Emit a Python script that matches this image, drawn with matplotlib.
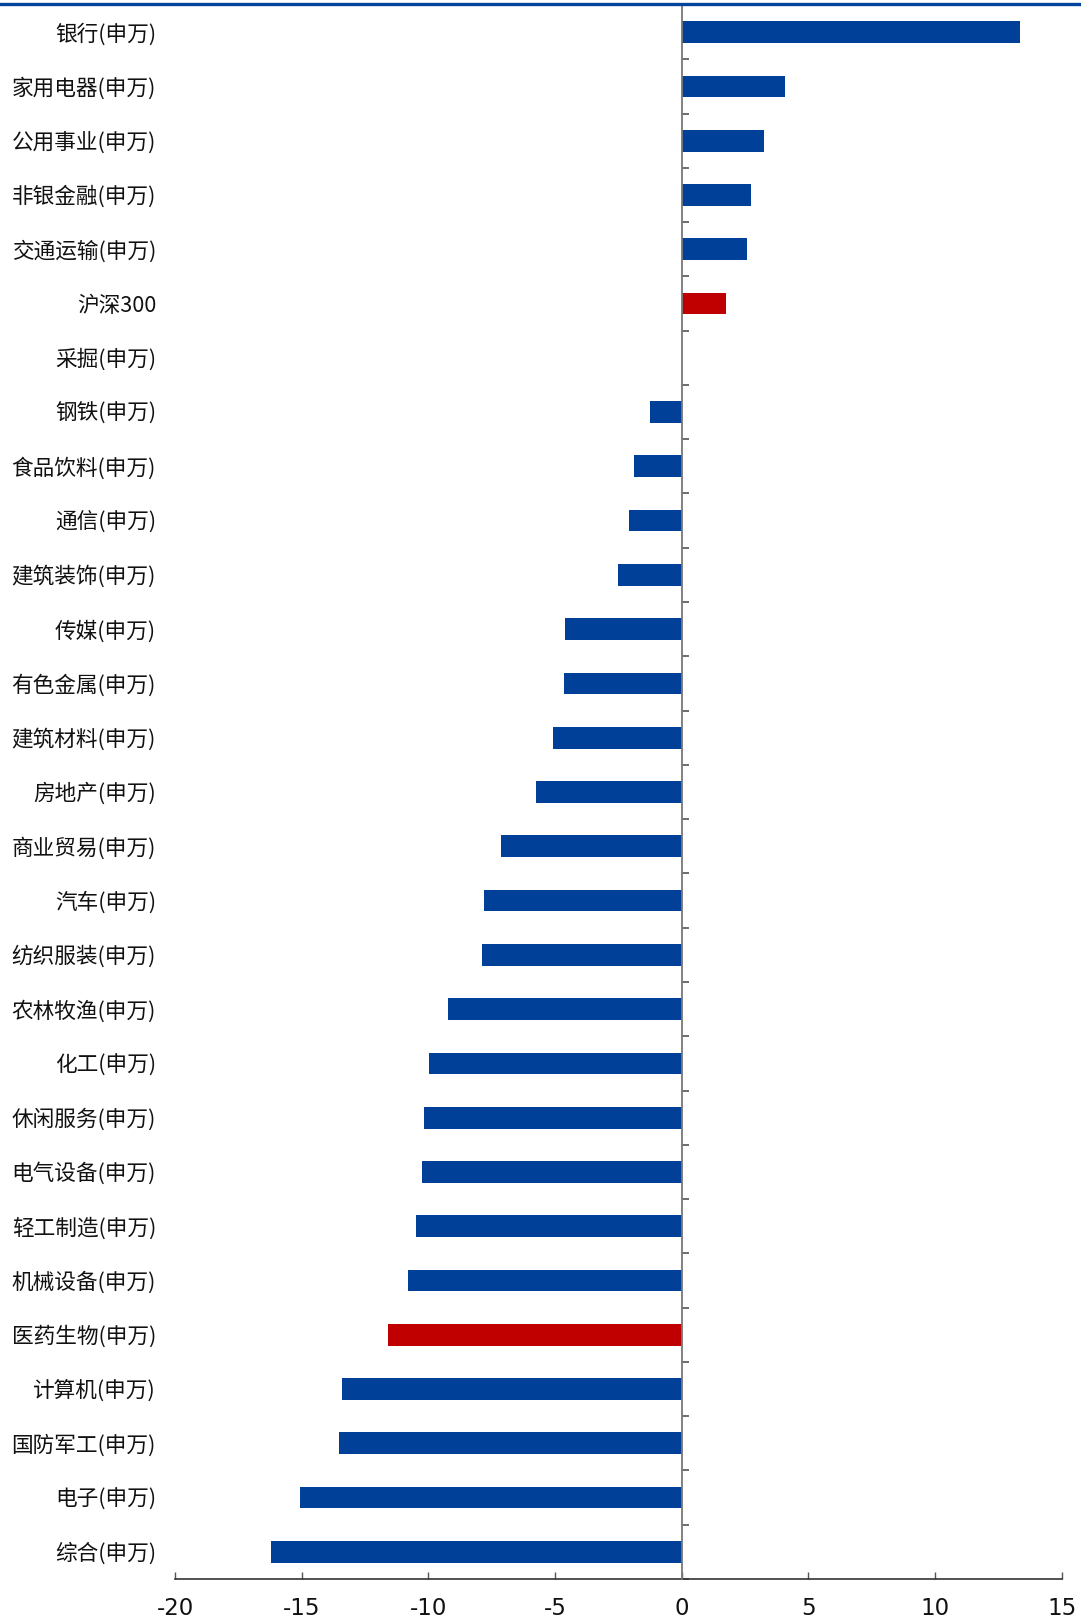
import matplotlib
matplotlib.use("Agg")
import matplotlib.pyplot as plt
from matplotlib.transforms import blended_transform_factory, offset_copy
from matplotlib.lines import Line2D
import numpy as np

categories = ["银行(申万)", "家用电器(申万)", "公用事业(申万)", "非银金融(申万)", "交通运输(申万)",
              "沪深300", "采掘(申万)", "钢铁(申万)", "食品饮料(申万)", "通信(申万)",
              "建筑装饰(申万)", "传媒(申万)", "有色金属(申万)", "建筑材料(申万)", "房地产(申万)",
              "商业贸易(申万)", "汽车(申万)", "纺织服装(申万)", "农林牧渔(申万)", "化工(申万)",
              "休闲服务(申万)", "电气设备(申万)", "轻工制造(申万)", "机械设备(申万)", "医药生物(申万)",
              "计算机(申万)", "国防军工(申万)", "电子(申万)", "综合(申万)"]
values = [13.36, 4.09, 3.24, 2.75, 2.56,
          1.75, 0.0, -1.25, -1.87, -2.07,
          -2.53, -4.59, -4.63, -5.07, -5.75,
          -7.13, -7.79, -7.87, -9.21, -9.99,
          -10.17, -10.26, -10.48, -10.79, -11.60,
          -13.40, -13.52, -15.06, -16.21]
highlight = ["沪深300", "医药生物(申万)"]
xticks = [-20, -15, -10, -5, 0, 5, 10, 15]

BLUE = "#004098"
RED = "#C00000"

fig = plt.figure(figsize=(10.81, 16.2), dpi=100)
ax = fig.add_axes([175 / 1081, 1 - 1579 / 1620, (1061.7 - 175) / 1081, (1579 - 5) / 1620])

y = np.arange(len(categories))
colors = [RED if c in highlight else BLUE for c in categories]
ax.barh(y, values, height=0.4, color=colors, edgecolor="none", zorder=2)

ax.set_xlim(-20, 15)
ax.set_ylim(len(categories) - 0.5, -0.5)

for s in ["top", "right"]:
    ax.spines[s].set_visible(False)
ax.spines["left"].set_position(("data", 0))
ax.spines["left"].set_color("#777777")
ax.spines["left"].set_linewidth(1.3)
ax.spines["left"].set_zorder(3)
ax.spines["bottom"].set_color("#333333")
ax.spines["bottom"].set_linewidth(1.2)

ax.set_yticks(y)
ax.set_yticklabels([])
ax.tick_params(axis="y", which="major", length=0)
ax.set_yticks(np.arange(len(categories) + 1) - 0.5, minor=True)
ax.tick_params(axis="y", which="minor", direction="in", length=5, width=1.2, color="#555555")

ax.set_xticks(xticks)
ax.set_xticklabels([str(t) for t in xticks], fontsize=16.5, family="DejaVu Sans", color="#111111")
ax.tick_params(axis="x", direction="in", length=5, width=1.0, color="#555555", pad=13)

tr = blended_transform_factory(fig.transFigure, ax.transData)
tr = offset_copy(tr, fig=fig, x=0, y=-2, units="dots")
for yi, c in zip(y, categories):
    ax.text(156 / 1081, yi, c, transform=tr, ha="right", va="center", fontsize=15.6,
            family=["Noto Sans CJK SC", "DejaVu Sans"], color="#111111")

fig.add_artist(Line2D([0, 1], [1 - 3.5 / 1620, 1 - 3.5 / 1620], transform=fig.transFigure,
                      color="#00449E", linewidth=2.4))

fig.savefig("out.png", dpi=100)
